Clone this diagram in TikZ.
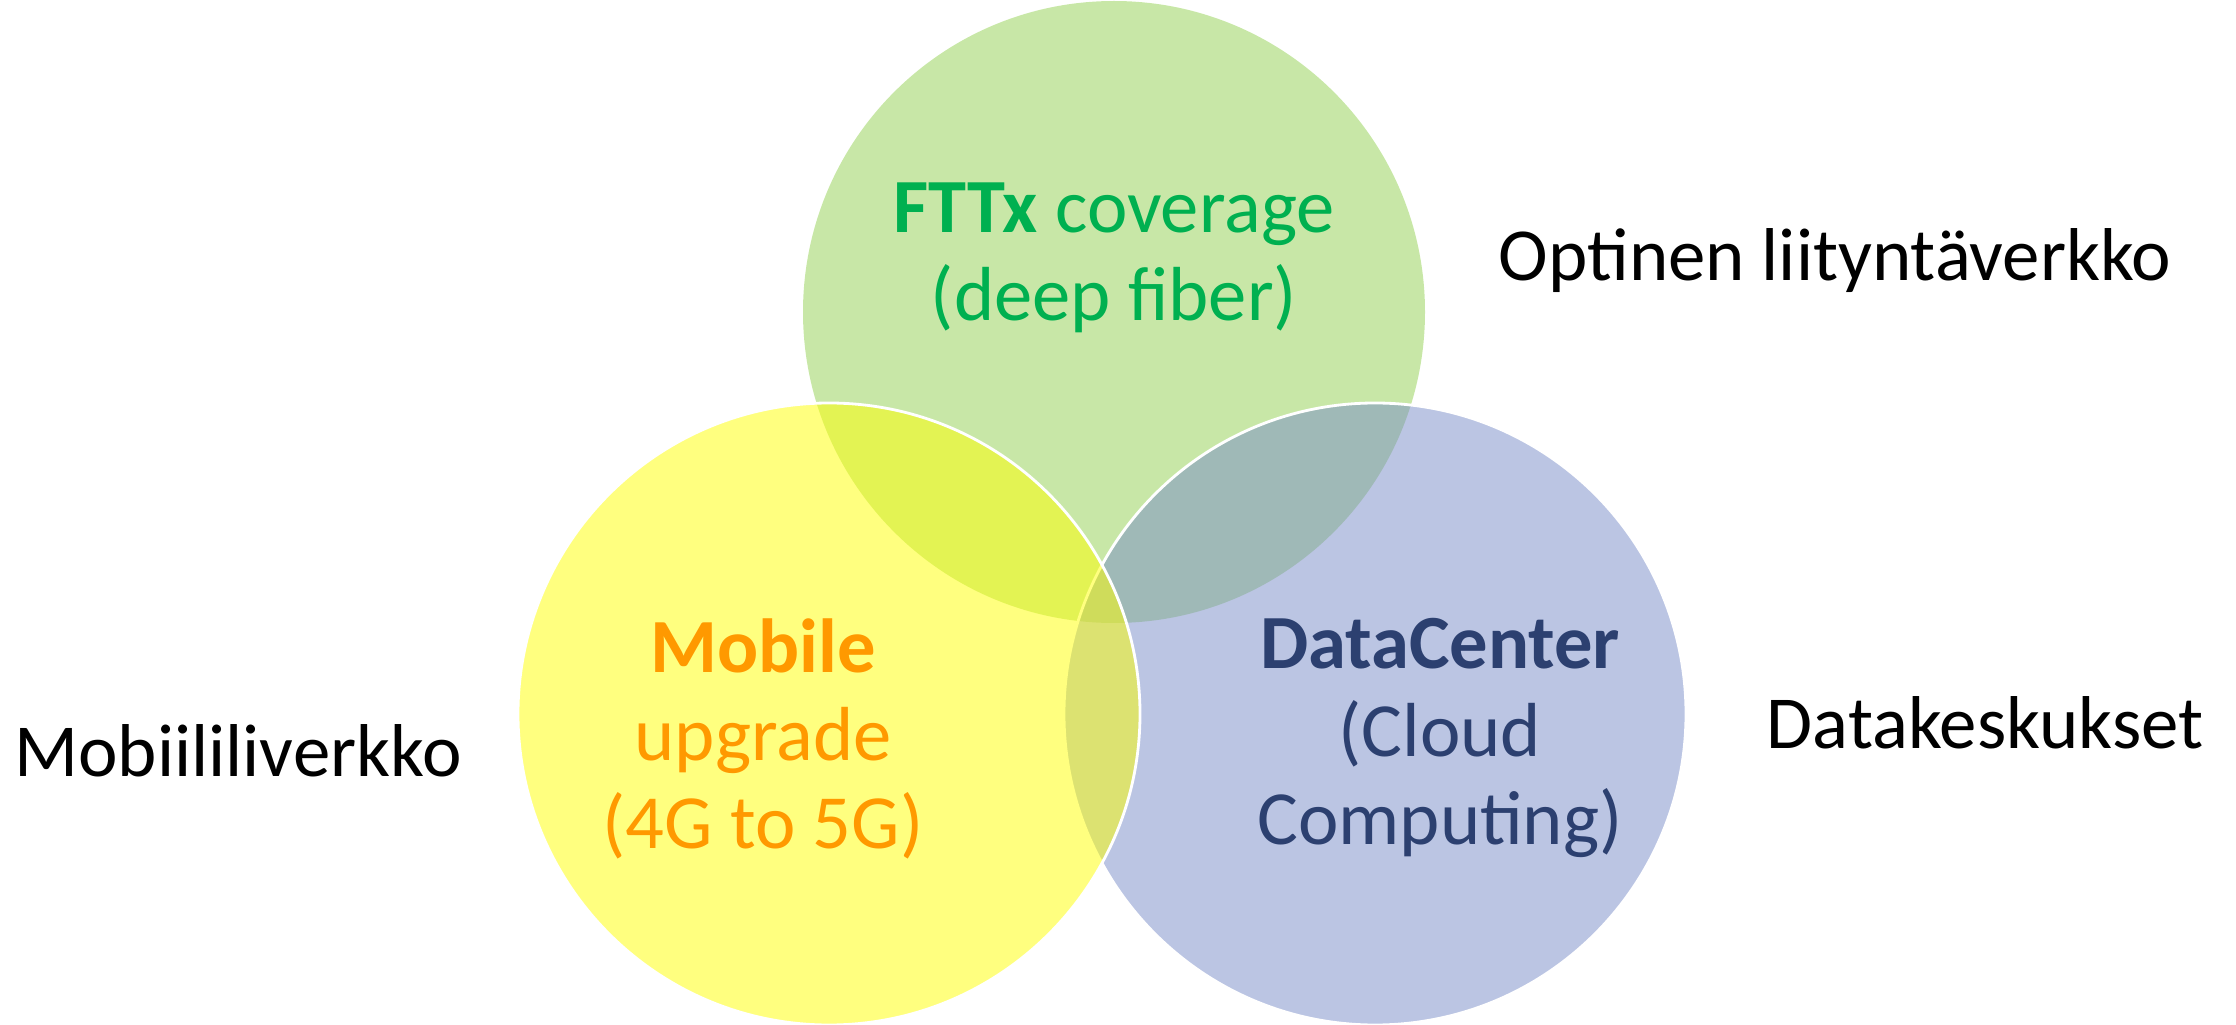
\documentclass[tikz,border=0pt]{standalone}
\usepackage{fontspec}
\setmainfont{Carlito}
\definecolor{fibergreen}{RGB}{146,208,80}
\definecolor{mobileyellow}{RGB}{255,255,0}
\definecolor{centerblue}{RGB}{119,139,199}
\definecolor{fibertext}{RGB}{0,176,80}
\definecolor{mobiletext}{RGB}{255,153,0}
\definecolor{centertext}{RGB}{44,64,112}
\tikzset{
  venn/.style={circle, minimum size=6.22cm, inner sep=0pt, fill opacity=0.5, draw=white, line width=0.8pt},
  inlabel/.style={align=center, font=\fontsize{21.8}{25}\selectfont},
  outlabel/.style={font=\fontsize{21.3}{25}\selectfont, text=black}
}
\begin{document}
\begin{tikzpicture}
\useasboundingbox (0,0) rectangle (22.36,10.24);
%circles, green first, then blue, yellow on top
\node[venn, fill=fibergreen, draw=none] (fiber) at (11.14, 7.12) {};
\node[venn, fill=centerblue] (cloud) at (13.75, 3.10) {};
\node[venn, fill=mobileyellow] (mobile) at (8.29, 3.10) {};
%texts inside
\node[inlabel, text=fibertext] (fibertxt) at (11.14, 7.66)
  {\textbf{FTTx} coverage\\(deep fiber)};
\node[inlabel, text=mobiletext] (mobiletxt) at (7.63, 2.85)
  {\textbf{Mobile}\\upgrade\\(4G to 5G)};
\node[inlabel, text=centertext] (cloudtxt) at (14.40, 2.86)
  {\textbf{DataCenter}\\(Cloud\\Computing)};
%finnish labels
\node[outlabel] (optinen) at (18.35, 7.63) {Optinen liityntäverkko};
\node[outlabel] (mobiili) at (2.38, 2.73) {Mobiililiverkko};
\node[outlabel] (datakesk) at (19.85, 3.01) {Datakeskukset};
\end{tikzpicture}
\end{document}
